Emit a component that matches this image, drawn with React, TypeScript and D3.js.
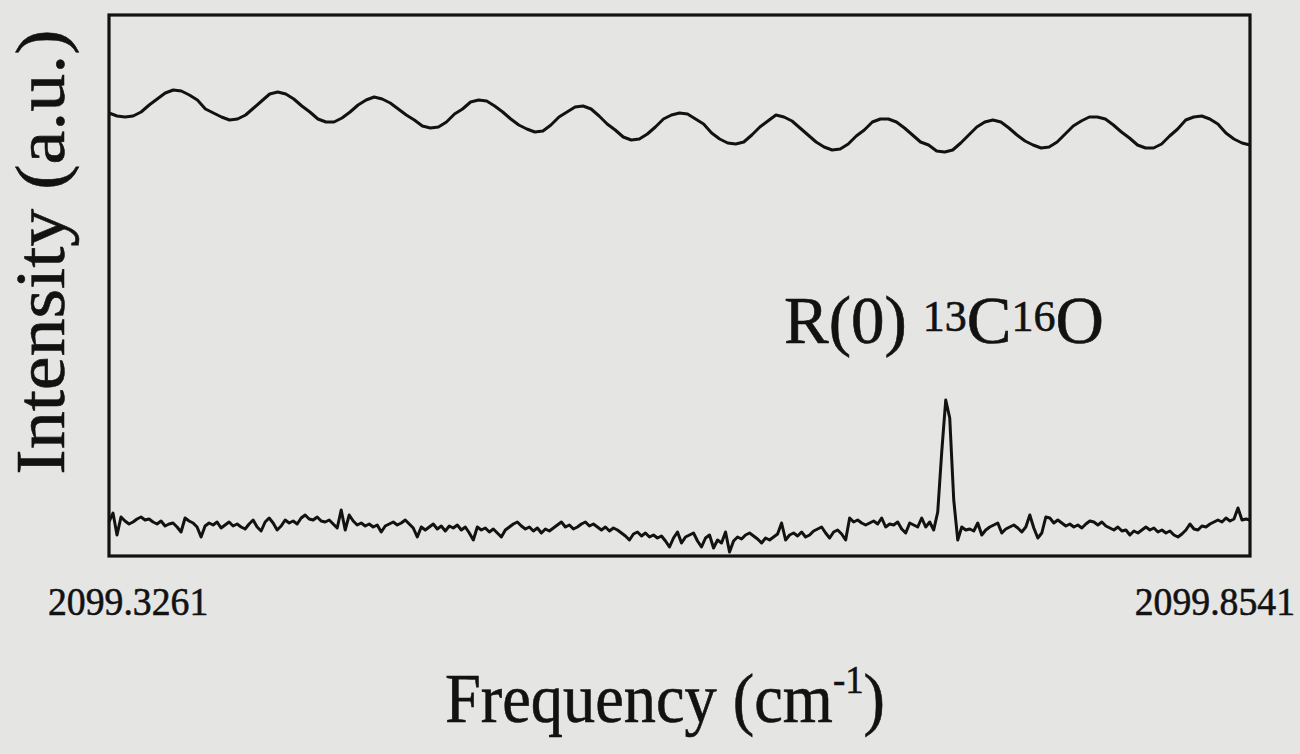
import React from "react";
import * as d3 from "d3";

// frequency axis (cm-1), only the two end labels are printed
const freqStart = 2099.3261;
const freqEnd = 2099.8541;
const tickLabels = ["2099.3261", "2099.8541"];

// upper trace: etalon fringes (a.u.), evenly sampled across the scan
const upperTrace = [
  443, 440, 439, 440, 444, 451, 457, 463, 466, 465,
  461, 456, 447, 443, 439, 436, 437, 441, 448, 455,
  462, 464, 462, 457, 450, 444, 437, 434, 434, 438,
  444, 451, 456, 459, 457, 453, 447, 441, 436, 430,
  428, 429, 434, 442, 447, 454, 456, 455, 450, 444,
  437, 431, 427, 424, 425, 431, 439, 444, 449, 450,
  447, 440, 432, 426, 419, 416, 417, 422, 429, 437,
  441, 443, 442, 437, 432, 423, 417, 413, 412, 414,
  421, 429, 435, 441, 439, 435, 428, 421, 414, 409,
  406, 407, 412, 420, 426, 434, 437, 437, 434, 428,
  421, 414, 411, 405, 404, 406, 413, 421, 429, 434,
  436, 434, 428, 421, 415, 411, 408, 409, 414, 422,
  430, 435, 439, 439, 437, 431, 424, 418, 411, 408,
  408, 412, 420, 427, 436, 439, 440, 437, 432, 423,
  417, 413, 411,
];

// lower trace: absorption signal with the R(0) 13C16O line (a.u.)
const lowerTrace = [
  34, 43, 21, 39, 35, 32, 34, 37, 39, 36,
  37, 34, 32, 35, 30, 32, 33, 29, 24, 38,
  35, 33, 29, 19, 30, 33, 31, 34, 28, 31,
  34, 30, 32, 29, 27, 32, 36, 29, 25, 34,
  38, 33, 26, 30, 36, 33, 35, 32, 38, 41,
  37, 36, 39, 35, 34, 36, 32, 28, 46, 26,
  41, 35, 31, 33, 30, 32, 29, 31, 24, 30,
  32, 34, 31, 33, 36, 32, 28, 19, 29, 26,
  29, 32, 27, 30, 25, 30, 28, 31, 26, 29,
  23, 16, 29, 26, 28, 24, 27, 23, 19, 26,
  29, 32, 34, 30, 27, 29, 25, 28, 23, 27,
  25, 28, 31, 34, 29, 31, 27, 29, 32, 34,
  30, 32, 29, 26, 29, 25, 28, 26, 23, 20,
  16, 22, 24, 20, 23, 19, 21, 18, 20, 15,
  9, 18, 24, 13, 19, 21, 23, 15, 9, 18,
  21, 8, 16, 13, 24, 4, 15, 19, 17, 21,
  23, 20, 17, 13, 18, 16, 19, 22, 33, 16,
  21, 23, 20, 24, 19, 21, 25, 27, 29, 23,
  18, 24, 26, 22, 16, 38, 34, 36, 33, 31,
  33, 35, 32, 38, 29, 32, 31, 34, 27, 23,
  33, 31, 29, 38, 29, 34, 26, 44, 104, 156,
  138, 56, 16, 29, 26, 27, 25, 33, 21, 26,
  29, 31, 33, 23, 27, 29, 31, 28, 24, 29,
  41, 28, 18, 23, 39, 38, 33, 36, 33, 30,
  32, 29, 31, 28, 32, 35, 34, 31, 34, 30,
  28, 26, 29, 25, 26, 21, 25, 23, 26, 29,
  26, 28, 24, 26, 23, 25, 21, 19, 22, 26,
  32, 27, 26, 30, 29, 32, 34, 36, 34, 38,
  35, 37, 48, 36, 37, 36,
];

const W = 1300;
const H = 754;
const box = { left: 109, top: 15, right: 1250, bottom: 556 };
const ink = "#121212";
const font = "'Liberation Serif', 'Times New Roman', serif";

// sample grid in frequency for a trace of n points
const toPoints = (vals: number[]) =>
  vals.map((v, i) => ({
    f: freqStart + ((freqEnd - freqStart) * i) / (vals.length - 1),
    v,
  }));

export default function App() {
  const x = d3.scaleLinear().domain([freqStart, freqEnd]).range([box.left, box.right]);
  const y = d3.scaleLinear().domain([0, 541]).range([box.bottom, box.top]);

  const line = d3
    .line<{ f: number; v: number }>()
    .x((d) => x(d.f))
    .y((d) => y(d.v));

  // scanned print: text looks a bit heavier than plain Times
  const textStyle = { fill: ink, stroke: ink, strokeWidth: 0.6 };

  return (
    <svg
      width={W}
      height={H}
      style={{ position: "absolute", left: 0, top: 0 }}
      fontFamily={font}
    >
      <rect width={W} height={H} fill="#e5e5e3" />

      <path
        d={line(toPoints(upperTrace)) || ""}
        fill="none"
        stroke={ink}
        strokeWidth={3}
        strokeLinejoin="round"
      />
      <path
        d={line(toPoints(lowerTrace)) || ""}
        fill="none"
        stroke={ink}
        strokeWidth={3}
        strokeLinejoin="round"
      />

      <rect
        x={box.left}
        y={box.top}
        width={box.right - box.left}
        height={box.bottom - box.top}
        fill="none"
        stroke={ink}
        strokeWidth={3.2}
      />

      {/* end tick labels */}
      <text transform="translate(48,615) scale(0.92,1)" fontSize={41} {...textStyle}>
        {tickLabels[0]}
      </text>
      <text
        transform="translate(1295,615) scale(0.92,1)"
        fontSize={41}
        textAnchor="end"
        {...textStyle}
      >
        {tickLabels[1]}
      </text>

      {/* x title */}
      <text
        transform="translate(665,722) scale(0.92,1)"
        fontSize={70}
        textAnchor="middle"
        {...textStyle}
      >
        Frequency (cm
        <tspan fontSize={40} dy={-29}>-1</tspan>
        <tspan dy={29}>)</tspan>
      </text>

      {/* y title */}
      <text
        transform="translate(64,252) scale(0.92,1) rotate(-90)"
        fontSize={76}
        textAnchor="middle"
        {...textStyle}
      >
        Intensity (a.u.)
      </text>

      {/* line label */}
      <text x={784} y={343} fontSize={67} {...textStyle}>
        R(0)
        <tspan dx={16} dy={-12} fontSize={44}>13</tspan>
        <tspan dy={12}>C</tspan>
        <tspan dy={-12} fontSize={44}>16</tspan>
        <tspan dy={12}>O</tspan>
      </text>
    </svg>
  );
}
